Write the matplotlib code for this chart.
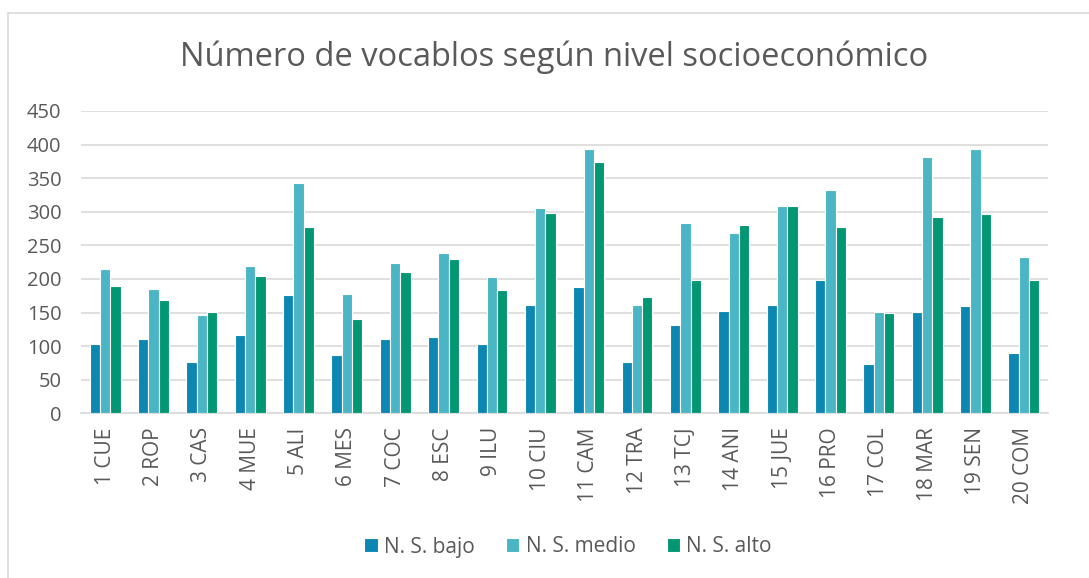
import matplotlib.pyplot as plt
import numpy as np
from matplotlib.patches import Rectangle

labels = ['1 CUE', '2 ROP', '3 CAS', '4 MUE', '5 ALI', '6 MES', '7 COC', '8 ESC', '9 ILU', '10 CIU',
          '11 CAM', '12 TRA', '13 TCJ', '14 ANI', '15 JUE', '16 PRO', '17 COL', '18 MAR', '19 SEN', '20 COM']
bajo = [103, 110, 76, 117, 176, 87, 111, 114, 103, 161, 188, 77, 132, 153, 161, 199, 73, 151, 160, 90]
medio = [215, 185, 146, 219, 343, 178, 223, 238, 203, 306, 394, 161, 283, 268, 308, 332, 151, 382, 393, 232]
alto = [190, 168, 151, 205, 277, 141, 210, 230, 183, 298, 374, 173, 198, 281, 309, 278, 149, 292, 297, 198]
series = ['N. S. bajo', 'N. S. medio', 'N. S. alto']
colors = ['#0C87B2', '#4AB5C4', '#039673']

plt.rcParams['font.family'] = ['Open Sans', 'DejaVu Sans']
txt = '#595959'

fig = plt.figure(figsize=(10.89, 5.78), dpi=100)
ax = fig.add_axes([81/1089, 1 - 413.3/578, (1048-81)/1089, (413.3-111)/578])

# marco exterior del grafico
fig.patches.append(Rectangle((8/1089, -0.1), 1.2, 1 - 13/578 + 0.1, transform=fig.transFigure,
                             fill=False, edgecolor='#D9D9D9', linewidth=1.2))

x = np.arange(len(labels))
w = 0.213
for i, (vals, name) in enumerate(zip([bajo, medio, alto], series)):
    ax.bar(x + (i - 1) * w, vals, w, color=colors[i], edgecolor='white', linewidth=0.8,
           label=name, zorder=3)

ax.set_xlim(-0.5, len(labels) - 0.5)
ax.set_ylim(0, 450)
ax.set_yticks(range(0, 451, 50))
ax.grid(axis='y', color='#D9D9D9', linewidth=1.2, zorder=0)
for s in ['top', 'right', 'left']:
    ax.spines[s].set_visible(False)
ax.spines['bottom'].set_color('#D9D9D9')
ax.spines['bottom'].set_linewidth(1.2)
ax.tick_params(length=0, labelsize=14.5, colors=txt)
ax.tick_params(axis='y', pad=14)
ax.tick_params(axis='x', pad=10, labelsize=15)
ax.set_xticks(x)
ax.set_xticklabels(labels, rotation=90)

fig.suptitle('Número de vocablos según nivel socioeconómico', x=554/1089, y=1 - 57/578,
             va='center', fontsize=23.5, color=txt)

leg = fig.legend(loc='center', bbox_to_anchor=(568/1089, 1 - 547/578), ncol=3, frameon=False,
                 fontsize=15, handlelength=0.65, handleheight=0.65, handletextpad=0.3,
                 columnspacing=1.5, labelcolor=txt)

fig.savefig('out.png', dpi=100)
